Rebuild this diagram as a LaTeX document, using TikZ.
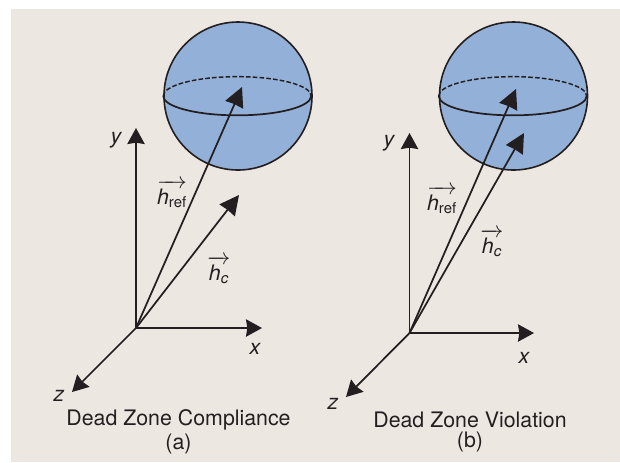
\documentclass[tikz,border=0pt]{standalone}
\usepackage{amsmath,amssymb}
\usepackage{fontspec}
\setmainfont{TeX Gyre Heros}
\usepackage{tikz}
\usetikzlibrary{positioning,arrows.meta}
\usepackage{xcolor}
\definecolor{panelbg}{HTML}{EDE7E2}
\definecolor{ballblue}{HTML}{93B1D8}
\definecolor{inkblack}{HTML}{231F20}
\newcommand{\hvec}[1]{$\overrightarrow{\text{\textit{h}}_{\text{#1}}}$}

\begin{document}
\begin{tikzpicture}[
    x=0.75pt, y=-0.75pt,
    >={Stealth[length=12pt, width=13pt, inset=1pt]},
    ball/.style={
        circle, draw=inkblack, fill=ballblue, line width=1.2pt,
        minimum size=111pt, inner sep=0pt
    },
    axis/.style={->, line width=1.3pt, draw=inkblack},
    vector/.style={-{Stealth[length=14.5pt, width=14.5pt, inset=.5pt]}, line width=1.3pt, draw=inkblack},
    rim/.style={line width=1.3pt, draw=inkblack},
    rimback/.style={rim, dash pattern=on 3.5pt off 1.6pt, line width=1.1pt},
    axislabel/.style={font=\fontsize{16}{18}\selectfont\itshape, text=inkblack, inner sep=0pt},
    veclabel/.style={font=\fontsize{16}{18}\selectfont, text=inkblack, inner sep=0pt},
    caption/.style={font=\fontsize{16}{18}\selectfont, text=inkblack, inner sep=0pt},
]
\useasboundingbox (0,0) rectangle (620,462);
\fill[white] (0,0) rectangle (620,462);
\fill[panelbg] (11,9) rectangle (620,462);

% Compliance panel
\node[ball] (balla) at (238,96) {};
\draw[rimback] (balla.west) arc[start angle=180, end angle=0, x radius=55.5pt, y radius=14.5pt];
\draw[rim] (balla.west) arc[start angle=180, end angle=360, x radius=55.5pt, y radius=14.5pt];

\coordinate (oa) at (136,328);
\coordinate (ya) at (136,128);
\coordinate (xa) at (262,328);
\coordinate (za) at (72,392);
\coordinate (ra) at (242,87);
\coordinate (ca) at (239,195);

\draw[axis] (oa) -- (ya);
\draw[axis] (oa) -- (xa);
\draw[axis] (oa) -- (za);
\draw[vector] (oa) -- (ra);
\draw[vector] (oa) -- (ca);

\node[axislabel] (lya) at (116,140) {y};
\node[axislabel] (lxa) at (255,349) {x};
\node[axislabel] (lza) at (59,396) {z};
\node[veclabel] (lra) at (172,194) {\hvec{ref}};
\node[veclabel] (lca) at (219,270) {\hvec{\textit{c}}};
\node[caption] (capa) at (178.5,420) {Dead Zone Compliance};
\node[caption, below=2.5pt of capa] (suba) {(a)};

% Violation panel
\node[ball] (ballb) at (513.5,96) {};
\draw[rimback] (ballb.west) arc[start angle=180, end angle=0, x radius=55.5pt, y radius=14.5pt];
\draw[rim] (ballb.west) arc[start angle=180, end angle=360, x radius=55.5pt, y radius=14.5pt];

\coordinate (ob) at (409.5,333);
\coordinate (yb) at (409.5,133);
\coordinate (xb) at (534,333);
\coordinate (zb) at (346,397);
\coordinate (rb) at (516,89);
\coordinate (cb) at (524,133);

\draw[axis] (ob) -- (yb);
\draw[axis] (ob) -- (xb);
\draw[axis] (ob) -- (zb);
\draw[vector] (ob) -- (rb);
\draw[vector] (ob) -- (cb);

\node[axislabel] (lyb) at (389,143) {y};
\node[axislabel] (lxb) at (524,358) {x};
\node[axislabel] (lzb) at (333,404) {z};
\node[veclabel] (lrb) at (442,200) {\hvec{ref}};
\node[veclabel] (lcb) at (492,243) {\hvec{\textit{c}}};
\node[caption] (capb) at (470,420) {Dead Zone Violation};
\node[caption, below=2.5pt of capb] (subb) {(b)};

\end{tikzpicture}
\end{document}
